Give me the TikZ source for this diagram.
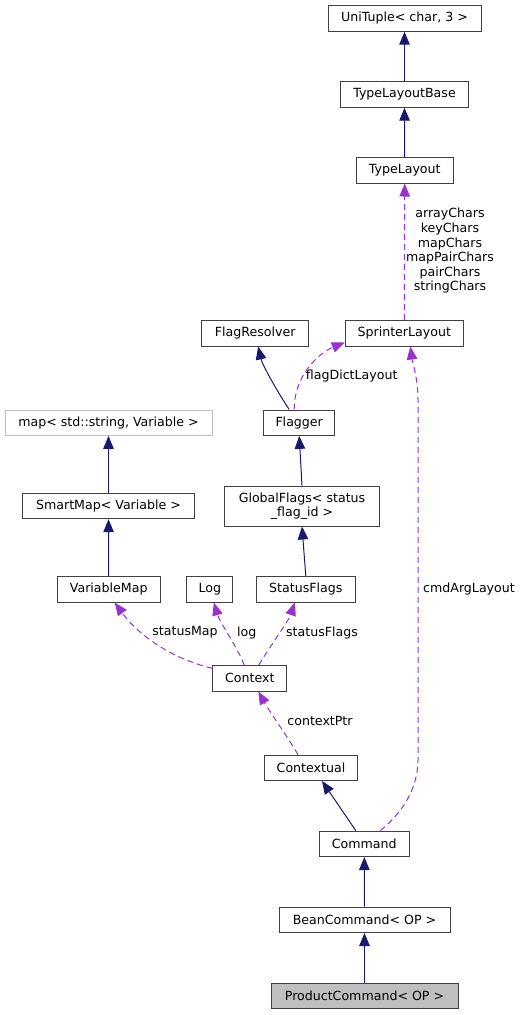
\documentclass[tikz,border=0pt]{standalone}
\usepackage{fontspec}
\setmainfont{DejaVu Sans}
\usepackage{tikz}
\usetikzlibrary{arrows.meta, positioning, calc}
\definecolor{inhcol}{RGB}{25,25,112}
\definecolor{usecol}{RGB}{154,50,205}
\definecolor{boxcol}{RGB}{64,64,64}
\definecolor{extcol}{RGB}{191,191,191}
\tikzset{
	cls/.style={draw=boxcol, line width=1pt, fill=white, inner sep=0pt, minimum height=25.4pt},
	extcls/.style={cls, draw=extcol},
	curcls/.style={cls, fill=extcol},
	inherit/.style={draw=inhcol, line width=1pt, -{Triangle[length=13pt,width=10.5pt]}},
	usage/.style={draw=usecol, line width=1pt, dash pattern=on 6pt off 4pt, -{Triangle[length=13pt,width=10.5pt]}},
	rolelbl/.style={inner sep=0pt, align=center}
}
\begin{document}
\begin{tikzpicture}[x=1pt, y=-1pt, font=\fontsize{12.6}{14.6}\selectfont]
	\useasboundingbox (0,0) rectangle (522,1015);
	
	% 1. Classes
	\node[cls, minimum width=153pt] (unituple) at (404.5,18.5) {UniTuple< char, 3 >};
	\node[cls, minimum width=128pt] (typelayoutbase) at (404.5,94.5) {TypeLayoutBase};
	\node[cls, minimum width=97pt] (typelayout) at (404.7,170.3) {TypeLayout};
	\node[cls, minimum width=107pt] (flagresolver) at (255.2,333.3) {FlagResolver};
	\node[cls, minimum width=118pt] (sprinterlayout) at (404.3,333.3) {SprinterLayout};
	\node[cls, minimum width=71pt] (flagger) at (299.2,422.7) {Flagger};
	\node[extcls, minimum width=207pt] (stdmap) at (108.5,422.7) {map< std::string, Variable >};
	\node[cls, minimum width=172pt] (smartmap) at (108.5,506) {SmartMap< Variable >};
	\node[cls, minimum width=155pt, minimum height=40pt, align=center] (globalflags) at (302,506) {GlobalFlags< status\\\_flag\_id >};
	\node[cls, minimum width=103pt] (variablemap) at (108.7,589.3) {VariableMap};
	\node[cls, minimum width=46pt] (log) at (209.8,589.3) {Log};
	\node[cls, minimum width=99pt] (statusflags) at (305.8,589.3) {StatusFlags};
	\node[cls, minimum width=74pt] (context) at (249.8,678.3) {Context};
	\node[cls, minimum width=93pt] (contextual) at (311,767.8) {Contextual};
	\node[cls, minimum width=90pt] (command) at (364.3,843.8) {Command};
	\node[cls, minimum width=171pt] (beancommand) at (364.5,919.8) {BeanCommand< OP >};
	\node[curcls, minimum width=187pt] (productcommand) at (364.5,996) {ProductCommand< OP >};
	
	% 2. Inheritance
	\foreach \sub/\base in {typelayoutbase/unituple, typelayout/typelayoutbase, smartmap/stdmap, variablemap/smartmap, globalflags/flagger, statusflags/globalflags, beancommand/command, productcommand/beancommand} {
		\draw[inherit] (\sub.north) -- (\base.south);
	}
	\draw[inherit] ($(flagger.north)+(-10,0)$) .. controls +(-12,-18) and +(4,18) .. ($(flagresolver.south)+(3,0)$);
	\draw[inherit] ($(command.north)+(-8.5,0)$) -- ($(contextual.south)+(11,0)$);
	
	% 3. Members
	\draw[usage] (sprinterlayout.north) -- (typelayout.south);
	\draw[usage] ($(flagger.north)+(-5,0)$) .. controls +(0,-35) and +(-25,10) .. ($(sprinterlayout.south west)+(0,-4)$);
	\draw[usage] ($(command.north)+(16,0)$) .. controls +(25,-20) and +(0,25) .. (418,760) -- (418,400) .. controls +(0,-22) and +(2,15) .. ($(sprinterlayout.south)+(6,0)$);
	\draw[usage] ($(context.west)+(0,-10)$) .. controls +(-50,-12) and +(18,25) .. ($(variablemap.south)+(6,0)$);
	\draw[usage] ($(context.north)+(-5.5,0)$) .. controls +(-8,-20) and +(6,20) .. ($(log.south)+(4,0)$);
	\draw[usage] ($(context.north)+(9,0)$) .. controls +(12,-20) and +(-6,18) .. ($(statusflags.south)+(-11,0)$);
	\draw[usage] ($(contextual.north)+(-13,0)$) .. controls +(-12,-20) and +(10,18) .. ($(context.south)+(8.5,0)$);
	
	% 4. Member names
	\node[rolelbl] (lbltypelayout) at (450,251) {arrayChars\\keyChars\\mapChars\\mapPairChars\\pairChars\\stringChars};
	\node[rolelbl] (lblflagdict) at (351.7,376) {flagDictLayout};
	\node[rolelbl] (lblcmdarg) at (469,588.7) {cmdArgLayout};
	\node[rolelbl] (lblstatusmap) at (185,632.7) {statusMap};
	\node[rolelbl] (lbllog) at (246.7,632.7) {log};
	\node[rolelbl] (lblstatusflags) at (322,632.7) {statusFlags};
	\node[rolelbl] (lblcontextptr) at (320,721) {contextPtr};
\end{tikzpicture}
\end{document}
